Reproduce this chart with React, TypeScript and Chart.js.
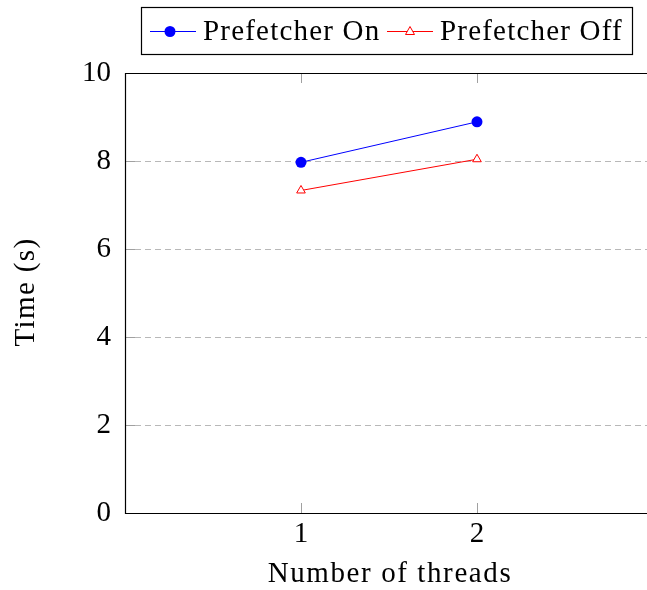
import React, { useEffect, useRef } from 'react';
import { Chart, registerables } from 'chart.js';

Chart.register(...registerables);

const threads = [1, 2];
const prefetcherOn = [7.97, 8.89];
const prefetcherOff = [7.33, 8.04];
const xTickValues = [1, 2];
const yTickValues = [0, 2, 4, 6, 8, 10];
const seriesNames = ['Prefetcher On', 'Prefetcher Off'];
const seriesColors = ['#0000ff', '#ff0000'];
const xTitle = 'Number of threads';
const yTitle = 'Time (s)';

const FONT = '"Liberation Serif", "Times New Roman", serif';
const FONT_SIZE = 29;

const framePlugin = {
  id: 'frame',
  afterDraw(chart: any) {
    const { ctx, chartArea } = chart;
    const { left, right, top, bottom } = chartArea;
    const xs = chart.scales.x;
    const ys = chart.scales.y;
    ctx.save();
    // inward ticks
    ctx.strokeStyle = '#a0a0a0';
    ctx.lineWidth = 1;
    ctx.setLineDash([]);
    ctx.beginPath();
    xTickValues.forEach((v) => {
      const px = Math.round(xs.getPixelForValue(v)) + 0.5;
      ctx.moveTo(px, bottom);
      ctx.lineTo(px, bottom - 10);
      ctx.moveTo(px, top);
      ctx.lineTo(px, top + 10);
    });
    yTickValues.forEach((v) => {
      const py = Math.round(ys.getPixelForValue(v)) + 0.5;
      ctx.moveTo(left, py);
      ctx.lineTo(left + 10, py);
    });
    ctx.stroke();
    // frame
    ctx.strokeStyle = '#000000';
    ctx.lineWidth = 1.2;
    ctx.beginPath();
    ctx.moveTo(right, Math.round(top) + 0.5);
    ctx.lineTo(Math.round(left) + 0.5, Math.round(top) + 0.5);
    ctx.lineTo(Math.round(left) + 0.5, Math.round(bottom) + 0.5);
    ctx.lineTo(right, Math.round(bottom) + 0.5);
    ctx.stroke();

    // axis titles
    ctx.fillStyle = '#000000';
    ctx.font = `${FONT_SIZE}px ${FONT}`;
    ctx.textAlign = 'center';
    ctx.textBaseline = 'alphabetic';
    (ctx as any).letterSpacing = '1.6px';
    const xCenter = (xs.getPixelForValue(0) + xs.getPixelForValue(3)) / 2;
    ctx.fillText(xTitle, xCenter + 1, 582);
    (ctx as any).letterSpacing = '1.4px';
    const yCenter = (top + bottom) / 2;
    ctx.translate(34, yCenter);
    ctx.rotate(-Math.PI / 2);
    ctx.fillText(yTitle, 1, 0);
    ctx.restore();
  },
};

const legendPlugin = {
  id: 'texLegend',
  afterDraw(chart: any) {
    const { ctx } = chart;
    ctx.save();
    const bx = 141.5, by = 7.5, bw = 491, bh = 47;
    ctx.fillStyle = '#ffffff';
    ctx.fillRect(bx, by, bw, bh);
    ctx.strokeStyle = '#000000';
    ctx.lineWidth = 1.2;
    ctx.strokeRect(bx, by, bw, bh);
    const cy = 31;
    const items = [
      { lineStart: 150, lineEnd: 196, marker: 170, textX: 203 },
      { lineStart: 387, lineEnd: 433, marker: 410, textX: 440 },
    ];
    items.forEach((it, i) => {
      const color = seriesColors[i];
      ctx.strokeStyle = color;
      ctx.lineWidth = 1;
      ctx.beginPath();
      ctx.moveTo(it.lineStart, cy + 0.5);
      ctx.lineTo(it.lineEnd, cy + 0.5);
      ctx.stroke();
      if (i === 0) {
        ctx.fillStyle = color;
        ctx.beginPath();
        ctx.arc(it.marker, cy + 0.5, 5.5, 0, Math.PI * 2);
        ctx.fill();
      } else {
        ctx.fillStyle = '#ffffff';
        ctx.beginPath();
        ctx.moveTo(it.marker, cy - 4.5);
        ctx.lineTo(it.marker + 4.5, cy + 3.5);
        ctx.lineTo(it.marker - 4.5, cy + 3.5);
        ctx.closePath();
        ctx.fill();
        ctx.stroke();
      }
      ctx.fillStyle = '#000000';
      ctx.font = `${FONT_SIZE}px ${FONT}`;
      ctx.textBaseline = 'middle';
      ctx.textAlign = 'left';
      (ctx as any).letterSpacing = '1.2px';
      ctx.fillText(seriesNames[i], it.textX, cy + 1);
      (ctx as any).letterSpacing = '0px';
    });
    ctx.restore();
  },
};

export default function App() {
  const canvasRef = useRef<HTMLCanvasElement | null>(null);

  useEffect(() => {
    const canvas = canvasRef.current;
    if (!canvas) return;
    const chart = new Chart(canvas, {
      type: 'line',
      data: {
        datasets: [
          {
            label: seriesNames[0],
            data: threads.map((t, i) => ({ x: t, y: prefetcherOn[i] })),
            borderColor: seriesColors[0],
            backgroundColor: seriesColors[0],
            borderWidth: 1,
            pointStyle: 'circle',
            pointRadius: 5.5,
            pointBorderWidth: 0,
            pointBackgroundColor: seriesColors[0],
            pointBorderColor: seriesColors[0],
            tension: 0,
          },
          {
            label: seriesNames[1],
            data: threads.map((t, i) => ({ x: t, y: prefetcherOff[i] })),
            borderColor: seriesColors[1],
            backgroundColor: '#ffffff',
            borderWidth: 1,
            pointStyle: 'triangle',
            pointRadius: 5,
            pointBorderWidth: 1,
            pointBackgroundColor: '#ffffff',
            pointBorderColor: seriesColors[1],
            tension: 0,
          },
        ],
      },
      options: {
        responsive: false,
        animation: false,
        devicePixelRatio: 1,
        layout: { autoPadding: false, padding: { top: 73, right: 0, left: 0, bottom: 0 } },
        plugins: {
          legend: { display: false },
          tooltip: { enabled: false },
          title: { display: false },
        },
        scales: {
          x: {
            type: 'linear',
            min: 0,
            max: 2.966,
            afterBuildTicks: (scale: any) => {
              scale.ticks = xTickValues.map((v) => ({ value: v }));
            },
            afterFit: (scale: any) => {
              scale.height = 77;
              scale.paddingLeft = 0;
              scale.paddingRight = 0;
            },
            grid: { display: false, drawTicks: false },
            border: { display: false },
            ticks: {
              color: '#000000',
              padding: 4,
              font: { family: FONT, size: FONT_SIZE },
              callback: (v: any) => String(v),
              maxRotation: 0,
            },
            title: { display: false },
          },
          y: {
            type: 'linear',
            min: 0,
            max: 10,
            afterBuildTicks: (scale: any) => {
              scale.ticks = yTickValues.map((v) => ({ value: v }));
            },
            afterFit: (scale: any) => {
              scale.width = 125;
              scale.paddingTop = 0;
              scale.paddingBottom = 0;
            },
            grid: {
              drawTicks: false,
              lineWidth: 1,
              color: (c: any) =>
                c.tick && (c.tick.value === 0 || c.tick.value === 10) ? 'rgba(0,0,0,0)' : '#b8b8b8',
            },
            border: { display: false, dash: [6, 4] },
            ticks: {
              color: '#000000',
              padding: 14,
              font: { family: FONT, size: FONT_SIZE },
              callback: (v: any) => String(v),
            },
            title: { display: false },
          },
        },
      },
      plugins: [framePlugin, legendPlugin],
    });
    return () => chart.destroy();
  }, []);

  return (
    <div style={{ position: 'absolute', left: 0, top: 0, width: 647, height: 590, background: '#ffffff' }}>
      <canvas ref={canvasRef} width={647} height={590} style={{ display: 'block' }} />
    </div>
  );
}
